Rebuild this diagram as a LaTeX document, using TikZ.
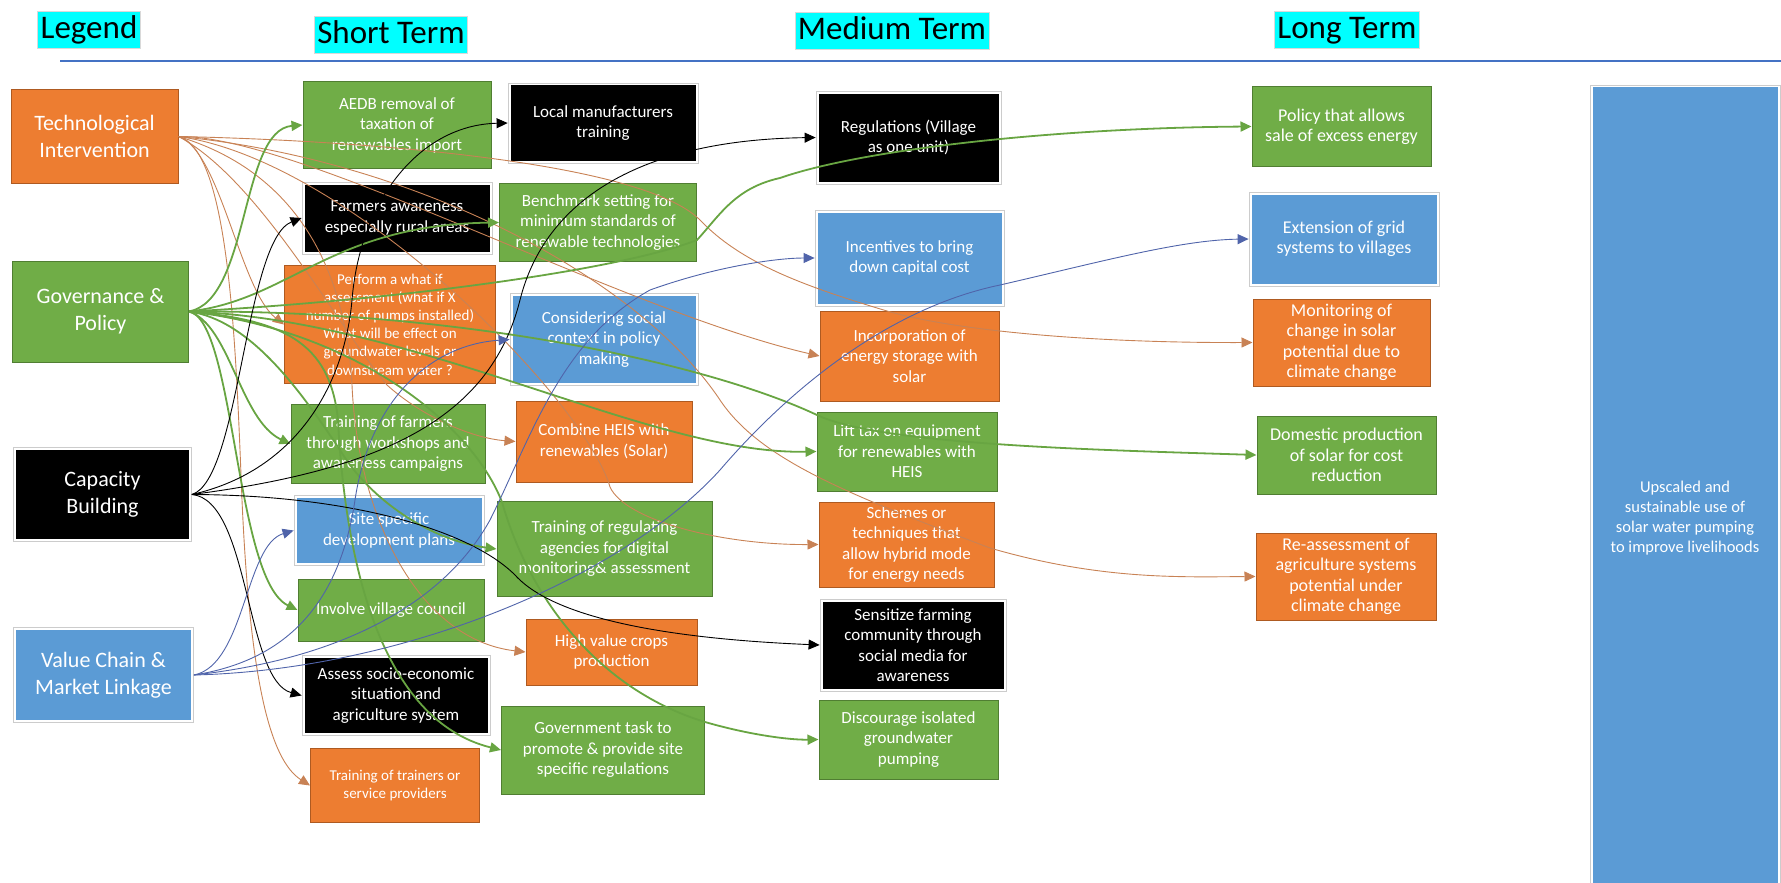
\documentclass[tikz,border=0pt]{standalone}
\usepackage{fontspec}
\setmainfont{Carlito}
\usepackage{xcolor}
\usetikzlibrary{arrows.meta}

\definecolor{gfill}{HTML}{70AD47}
\definecolor{gedge}{HTML}{507E32}
\definecolor{ofill}{HTML}{ED7D31}
\definecolor{oedge}{HTML}{AE5A21}
\definecolor{bfill}{HTML}{5B9BD5}
\definecolor{headfill}{HTML}{00FFFF}
\definecolor{rulec}{HTML}{4472C4}
\definecolor{techc}{RGB}{200,130,85}
\definecolor{govc}{RGB}{104,165,66}
\definecolor{valc}{RGB}{80,100,170}

\begin{document}
\begin{tikzpicture}[
  x=1pt, y=-1pt,
  >={Triangle[length=11pt, width=10pt]},
  box/.style={align=center, text=white, inner sep=2pt, font=\fontsize{17}{20.5}\selectfont},
  gbox/.style={box, fill=gfill, draw=gedge, line width=1pt},
  obox/.style={box, fill=ofill, draw=oedge, line width=1pt},
  framedbox/.style={box, fill=white, draw=black!20, line width=0.8pt,
    path picture={\fill[#1] ([shift={(2.5pt,-2.5pt)}]path picture bounding box.north west)
      rectangle ([shift={(-2.5pt,2.5pt)}]path picture bounding box.south east);}},
  kbox/.style={framedbox=black},
  bbox/.style={framedbox=bfill},
  termhead/.style={fill=headfill, draw=black!15, font=\fontsize{33}{36}\selectfont,
    text height=25pt, text depth=8pt, inner xsep=3pt, inner ysep=2pt},
  legendbox/.style={font=\fontsize{22}{27}\selectfont},
  smalltext/.style={font=\fontsize{15}{18.2}\selectfont},
  longtext/.style={font=\fontsize{18}{20.3}\selectfont},
  techln/.style={->, draw=techc, line width=0.9pt},
  govln/.style={->, draw=govc, line width=1.8pt},
  capln/.style={->, draw=black, line width=0.9pt},
  valln/.style={->, draw=valc, line width=0.9pt}
]
\useasboundingbox (0,0) rectangle (1781,883);
\clip (0,0) rectangle (1781,883);

% Column heads
\node[termhead] (hlegend) at (89,30) {Legend};
\node[termhead] (hshort) at (391,35) {Short Term};
\node[termhead] (hmed) at (892,31) {Medium Term};
\node[termhead] (hlong) at (1347,30) {Long Term};
\draw[rulec, line width=1.2pt] (60,61) -- (1781,61);

% Legend
\node[obox, legendbox, minimum width=167pt, minimum height=93pt] (tech) at (94.5,136.5) {Technological\\Intervention};
\node[gbox, legendbox, minimum width=176pt, minimum height=101pt] (gov) at (100.5,311.5) {Governance \&\\Policy};
\node[kbox, legendbox, minimum width=178pt, minimum height=94pt] (cap) at (102.5,494.5) {Capacity\\Building};
\node[bbox, legendbox, minimum width=180pt, minimum height=95pt] (val) at (103.5,675) {Value Chain \&\\Market Linkage};

% Short term, first column
\node[gbox, minimum width=188pt, minimum height=86pt] (aedb) at (397,125) {AEDB removal of\\taxation of\\renewables import};
\node[kbox, minimum width=190pt, minimum height=72pt] (farm) at (397,218) {Farmers awareness\\especially rural areas};
\node[obox, smalltext, minimum width=211pt, minimum height=118pt] (what) at (390,324.5) {Perform a what if\\assessment (what if X\\number of pumps installed)\\What will be effect on\\groundwater levels  or\\downstream water ?};
\node[gbox, minimum width=194pt, minimum height=79pt] (trfarm) at (388,444) {Training of farmers\\through workshops and\\awareness campaigns};
\node[bbox, minimum width=190pt, minimum height=70pt] (site) at (389,530.5) {Site specific\\development plans};
\node[gbox, minimum width=186pt, minimum height=62pt] (council) at (391,610) {Involve village council};
\node[kbox, minimum width=188pt, minimum height=80pt] (assess) at (396,695.5) {Assess socio-economic\\situation and\\agriculture system};
\node[obox, smalltext, minimum width=169pt, minimum height=74pt] (tot) at (395,785.5) {Training of trainers or\\service providers};

% Short term, second column
\node[kbox, minimum width=190pt, minimum height=80pt] (local) at (603,123) {Local manufacturers\\training};
\node[gbox, minimum width=197pt, minimum height=78pt] (bench) at (598,222.5) {Benchmark setting for\\minimum standards of\\renewable technologies};
\node[bbox, minimum width=188pt, minimum height=92pt] (social) at (604,339.5) {Considering social\\context in policy\\making};
\node[obox, minimum width=176pt, minimum height=81pt] (heis) at (604,441.5) {Combine HEIS with\\renewables (Solar)};
\node[gbox, minimum width=215pt, minimum height=95pt] (regul) at (604.5,549) {Training of regulating\\agencies for digital\\monitoring\& assessment};
\node[obox, minimum width=171pt, minimum height=66pt] (crops) at (611.5,652) {High value crops\\production};
\node[gbox, minimum width=203pt, minimum height=88pt] (govtask) at (603,750) {Government task to\\promote \& provide site\\specific regulations};

% Medium term
\node[kbox, minimum width=185pt, minimum height=93pt] (regs) at (908.5,137.5) {Regulations (Village\\as one unit)};
\node[bbox, minimum width=189pt, minimum height=96pt] (incent) at (909.5,258) {Incentives to bring\\down capital cost};
\node[obox, minimum width=179pt, minimum height=90pt] (incorp) at (909.5,356) {Incorporation of\\energy storage with\\solar};
\node[gbox, minimum width=180pt, minimum height=79pt] (lift) at (907,451.5) {Lift tax on equipment\\for renewables with\\HEIS};
\node[obox, minimum width=175pt, minimum height=85pt] (schemes) at (906.5,544.5) {Schemes or\\techniques that\\allow hybrid mode\\for energy needs};
\node[kbox, minimum width=186pt, minimum height=92pt] (sensit) at (913,645) {Sensitize farming\\community through\\social media for\\awareness};
\node[gbox, minimum width=179pt, minimum height=79pt] (discour) at (908.5,739.5) {Discourage isolated\\groundwater\\pumping};

% Long term
\node[gbox, longtext, minimum width=179pt, minimum height=79pt] (policy) at (1341.5,126.5) {Policy that allows\\sale of excess energy};
\node[bbox, longtext, minimum width=190pt, minimum height=94pt] (grid) at (1344,239) {Extension of grid\\systems to villages};
\node[obox, longtext, minimum width=177pt, minimum height=87pt] (monitor) at (1341.5,342.5) {Monitoring of\\change in solar\\potential due to\\climate change};
\node[gbox, longtext, minimum width=179pt, minimum height=78pt] (domestic) at (1346.5,455) {Domestic production\\of solar for cost\\reduction};
\node[obox, longtext, minimum width=180pt, minimum height=87pt] (reassess) at (1346,576.5) {Re-assessment of\\agriculture systems\\potential  under\\climate change};

% Goal
\node[bbox, font=\fontsize{16.5}{20}\selectfont, minimum width=190pt, minimum height=866pt] (goal) at (1685,518) {Upscaled and\\sustainable use of\\solar water pumping\\to improve livelihoods};

% Technological intervention links
\draw[techln] (tech.east) .. controls (220,150) and (240,290) .. (what.west);
\draw[techln] (tech.east) .. controls (230,150) and (236,350) .. (242,500) .. controls (250,680) and (270,760) .. (tot.west);
\draw[techln] (tech.east) .. controls (260,180) and (340,330) .. (387,385) .. controls (420,415) and (470,438) .. (heis.west);
\draw[techln] (tech.east) .. controls (290,170) and (345,260) .. (352,385) .. controls (358,520) and (420,640) .. (crops.west);
\draw[techln] (tech.east) .. controls (300,135) and (620,310) .. (incorp.west);
\draw[techln] (tech.east) .. controls (350,160) and (585,400) .. (610,487) .. controls (625,520) and (720,545) .. (schemes.west);
\draw[techln] (tech.east) .. controls (350,140) and (640,160) .. (700,220) .. controls (740,262) and (800,285) .. (887,311) .. controls (960,332) and (1100,343) .. (monitor.west);
\draw[techln] (tech.east) .. controls (420,160) and (640,280) .. (720,400) .. controls (760,460) and (850,495) .. (990,548) .. controls (1100,580) and (1180,577) .. (reassess.west);

% Governance links
\draw[govln] (gov.east) .. controls (250,300) and (240,130) .. (aedb.west);
\draw[govln] (gov.east) .. controls (290,300) and (330,225) .. (bench.west);
\draw[govln] (gov.east) .. controls (400,300) and (620,270) .. (697,240) .. controls (720,215) and (735,188) .. (780,178) .. controls (860,150) and (1050,128) .. (policy.west);
\draw[govln] (gov.east) .. controls (230,325) and (240,420) .. (trfarm.west);
\draw[govln] (gov.east) .. controls (235,320) and (235,580) .. (council.west);
\draw[govln] (gov.east) .. controls (250,320) and (300,390) .. (340,450) .. controls (370,500) and (430,540) .. (regul.west);
\draw[govln] (gov.east) .. controls (280,320) and (330,340) .. (338,420) .. controls (345,560) and (380,720) .. (govtask.west);
\draw[govln] (gov.east) .. controls (420,320) and (650,455) .. (lift.west);
\draw[govln] (gov.east) .. controls (450,310) and (700,360) .. (817,415) .. controls (880,445) and (1100,450) .. (domestic.west);
\draw[govln] (gov.east) .. controls (350,330) and (470,420) .. (502,502) .. controls (530,600) and (600,690) .. (705,722) .. controls (750,735) and (790,740) .. (discour.west);

% Capacity building links
\draw[capln] (cap.east) .. controls (240,480) and (245,240) .. (farm.west);
\draw[capln] (cap.east) .. controls (300,470) and (345,380) .. (352,300) .. controls (360,200) and (420,125) .. (local.west);
\draw[capln] (cap.east) .. controls (380,470) and (490,420) .. (520,300) .. controls (545,200) and (640,140) .. (regs.west);
\draw[capln] (cap.east) .. controls (250,500) and (245,680) .. (assess.west);
\draw[capln] (cap.east) .. controls (350,495) and (470,530) .. (515,575) .. controls (560,625) and (700,640) .. (sensit.west);

% Value chain links
\draw[valln] (val.east) .. controls (245,665) and (245,545) .. (site.west);
\draw[valln] (val.east) .. controls (290,660) and (340,600) .. (355,500) .. controls (370,400) and (430,345) .. (social.west);
\draw[valln] (val.east) .. controls (330,660) and (440,610) .. (490,520) .. controls (530,440) and (560,340) .. (650,290) .. controls (720,265) and (780,258) .. (incent.west);
\draw[valln] (val.east) .. controls (400,670) and (620,580) .. (720,470) .. controls (780,400) and (880,310) .. (1000,285) .. controls (1100,262) and (1180,240) .. (grid.west);

\end{tikzpicture}
\end{document}
